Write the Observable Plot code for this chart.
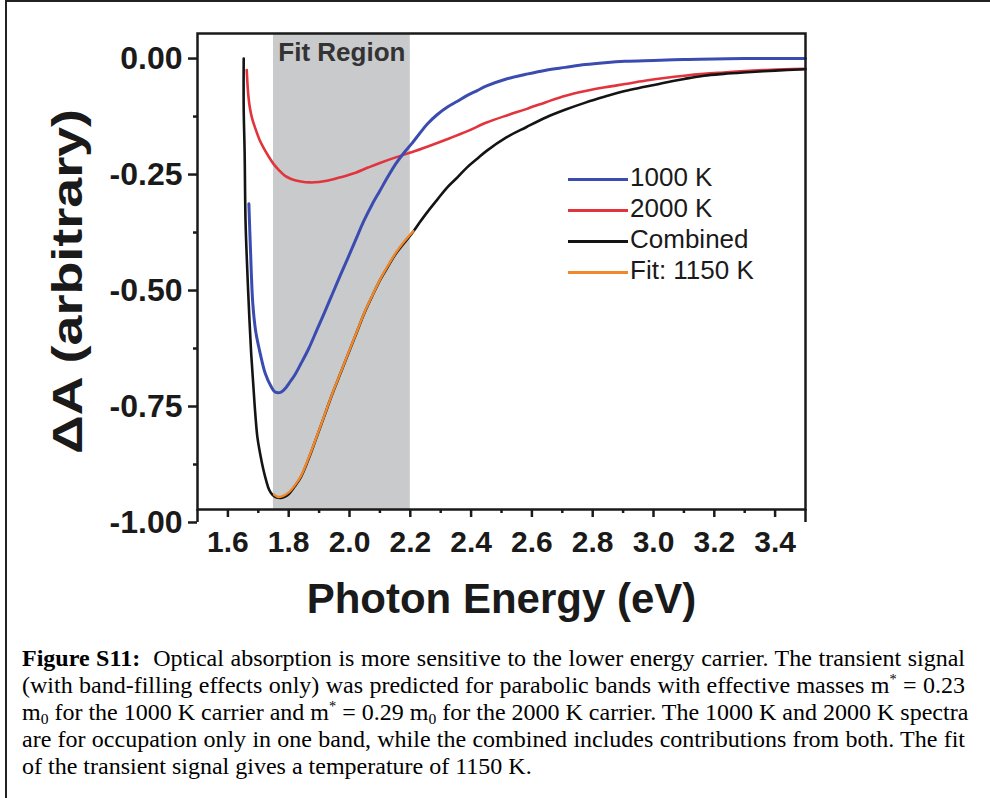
<!DOCTYPE html>
<html>
<head>
<meta charset="utf-8">
<script src="https://cdn.jsdelivr.net/npm/d3@7"></script>
<script src="https://cdn.jsdelivr.net/npm/@observablehq/plot@0.6"></script>
<style>
  html, body { margin: 0; padding: 0; background: #fff; }
  #page { position: relative; width: 990px; height: 798px; overflow: hidden; background: #fff; }
  #border { position: absolute; left: 5px; top: 0; width: 990px; height: 798px; border-top: 2px solid #222; border-left: 2px solid #222; box-sizing: border-box; }
  #chart { position: absolute; left: 0; top: 0; }
  #legend { position: absolute; left: 568px; top: 162px; font-family: "Liberation Sans", Arial, sans-serif; font-size: 26px; color: #1a1a1a; }
  #legend .row { height: 31px; line-height: 31px; white-space: nowrap; }
  #legend .sw { display: inline-block; width: 60px; height: 3px; vertical-align: middle; margin-right: 2px; }
  #caption { position: absolute; left: 22px; top: 645px; width: 943px; font-family: "Liberation Serif", "Times New Roman", serif; font-size: 24px; line-height: 27px; color: #000; }
  #caption .j { text-align: justify; text-align-last: justify; white-space: nowrap; }
  #caption sup { font-size: 60%; vertical-align: 0.6em; line-height: 0; }
  #caption sub { font-size: 65%; vertical-align: -0.25em; line-height: 0; }
</style>
</head>
<body>
<div id="page">
  <div id="border"></div>
  <div id="chart"></div>
  <div id="legend"></div>
  <div id="caption">
    <div class="j"><b>Figure S11:</b>&nbsp; Optical absorption is more sensitive to the lower energy carrier. The transient signal</div>
    <div class="j">(with band-filling effects only) was predicted for parabolic bands with effective masses m<sup>*</sup> = 0.23</div>
    <div class="j">m<sub>0</sub> for the 1000 K carrier and m<sup>*</sup> = 0.29 m<sub>0</sub> for the 2000 K carrier. The 1000 K and 2000 K spectra</div>
    <div class="j">are for occupation only in one band, while the combined includes contributions from both. The fit</div>
    <div>of the transient signal gives a temperature of 1150 K.</div>
  </div>
</div>
<script>
// ---- data ----
const seriesNames = ["1000 K", "2000 K", "Combined", "Fit: 1150 K"];
const seriesColors = ["#3b4cb0", "#e2343c", "#141414", "#f0882a"];

const blueX = [1.669,1.674,1.682,1.691,1.704,1.723,1.743,1.756,1.775,1.790,1.801,1.820,1.840,1.866,1.892,1.918,1.944,1.970,1.996,2.022,2.048,2.074,2.100,2.126,2.152,2.178,2.204,2.230,2.256,2.290,2.321,2.355,2.386,2.420,2.451,2.516,2.580,2.646,2.710,2.776,2.840,2.906,3.000,3.100,3.200,3.300,3.400,3.500];
const blueY = [-0.313,-0.407,-0.529,-0.586,-0.629,-0.679,-0.708,-0.719,-0.719,-0.710,-0.700,-0.682,-0.658,-0.625,-0.586,-0.547,-0.507,-0.467,-0.428,-0.388,-0.349,-0.315,-0.285,-0.255,-0.227,-0.204,-0.184,-0.162,-0.141,-0.120,-0.105,-0.092,-0.080,-0.069,-0.059,-0.044,-0.034,-0.025,-0.019,-0.013,-0.009,-0.006,-0.004,-0.002,-0.001,0.000,0.000,0.000];

const redX = [1.662,1.666,1.672,1.680,1.691,1.704,1.717,1.733,1.750,1.770,1.788,1.810,1.840,1.870,1.900,1.930,1.970,2.020,2.061,2.100,2.152,2.204,2.260,2.321,2.390,2.451,2.520,2.581,2.646,2.711,2.776,2.841,2.906,2.971,3.036,3.101,3.166,3.231,3.300,3.360,3.430,3.500];
const redY = [-0.025,-0.070,-0.105,-0.130,-0.152,-0.175,-0.192,-0.210,-0.227,-0.242,-0.253,-0.260,-0.265,-0.267,-0.266,-0.263,-0.256,-0.246,-0.235,-0.225,-0.213,-0.202,-0.189,-0.174,-0.156,-0.138,-0.122,-0.109,-0.094,-0.080,-0.070,-0.062,-0.055,-0.048,-0.042,-0.037,-0.033,-0.030,-0.027,-0.025,-0.023,-0.022];

const blackX = [1.652,1.652,1.655,1.658,1.664,1.671,1.677,1.684,1.690,1.697,1.707,1.717,1.726,1.736,1.746,1.756,1.775,1.788,1.801,1.820,1.840,1.866,1.892,1.918,1.944,1.970,1.996,2.022,2.048,2.074,2.100,2.126,2.152,2.178,2.204,2.230,2.256,2.290,2.321,2.355,2.386,2.420,2.451,2.516,2.581,2.646,2.711,2.776,2.841,2.906,2.971,3.036,3.101,3.166,3.231,3.296,3.400,3.500];
const blackY = [0.000,-0.110,-0.200,-0.350,-0.460,-0.565,-0.640,-0.708,-0.765,-0.816,-0.855,-0.887,-0.910,-0.930,-0.940,-0.945,-0.947,-0.944,-0.938,-0.922,-0.902,-0.862,-0.816,-0.769,-0.722,-0.679,-0.636,-0.593,-0.550,-0.513,-0.478,-0.449,-0.421,-0.399,-0.378,-0.354,-0.331,-0.303,-0.278,-0.256,-0.235,-0.216,-0.199,-0.170,-0.148,-0.127,-0.110,-0.095,-0.082,-0.070,-0.061,-0.052,-0.044,-0.037,-0.033,-0.030,-0.026,-0.023];

const fitX = [1.752,1.765,1.780,1.800,1.820,1.840,1.866,1.892,1.918,1.944,1.970,1.996,2.022,2.048,2.074,2.100,2.126,2.152,2.178,2.210];
const fitY = [-0.940,-0.945,-0.943,-0.935,-0.920,-0.900,-0.860,-0.815,-0.768,-0.721,-0.678,-0.635,-0.592,-0.549,-0.512,-0.477,-0.447,-0.419,-0.396,-0.372];

const fitRegion = [{x1: 1.75, x2: 2.2, label: "Fit Region"}];

const xMajor = [1.6, 1.8, 2.0, 2.2, 2.4, 2.6, 2.8, 3.0, 3.2, 3.4];
const xMinor = [1.7, 1.9, 2.1, 2.3, 2.5, 2.7, 2.9, 3.1, 3.3];
const yMajor = [0, -0.25, -0.5, -0.75, -1.0];
const yMinor = [-0.125, -0.375, -0.625, -0.875];

const xTitle = "Photon Energy (eV)";
const yTitle = "\u0394A (arbitrary)";

// ---- build ----
const toRows = (xs, ys, name) => xs.map((x, i) => ({x, y: ys[i], name}));
const blue = toRows(blueX, blueY, seriesNames[0]);
const red = toRows(redX, redY, seriesNames[1]);
const black = toRows(blackX, blackY, seriesNames[2]);
const fit = toRows(fitX, fitY, seriesNames[3]);

const xDomain = [1.5, 3.5];
const yDomain = [-0.972, 0.054];
const ink = "#1a1a1a";
const sans = "'Liberation Sans', Arial, Helvetica, sans-serif";
const curve = "catmull-rom";

const chart = Plot.plot({
  width: 990,
  height: 625,
  marginLeft: 197,
  marginRight: 185,
  marginTop: 33,
  marginBottom: 116,
  x: {domain: xDomain, label: null},
  y: {domain: yDomain, label: null},
  style: {fontFamily: sans, color: ink, background: "transparent", overflow: "visible"},
  marks: [
    Plot.rect(fitRegion, {x1: "x1", x2: "x2", fill: "#c9cacc"}),
    Plot.text(fitRegion, {x: d => (d.x1 + d.x2) / 2, frameAnchor: "top", dy: 9, text: "label", fontSize: 26, fontWeight: "bold", fill: "#333", fontFamily: sans}),
    Plot.line(red, {x: "x", y: "y", stroke: seriesColors[1], strokeWidth: 2.6, curve}),
    Plot.line(blue, {x: "x", y: "y", stroke: seriesColors[0], strokeWidth: 3, curve}),
    Plot.line(black, {x: "x", y: "y", stroke: seriesColors[2], strokeWidth: 2.6, curve}),
    Plot.line(fit, {x: "x", y: "y", stroke: seriesColors[3], strokeWidth: 2.4, curve}),
    Plot.frame({stroke: ink, strokeWidth: 2.5}),
    Plot.ruleX(xDomain, {y1: yMajor[yMajor.length - 1], y2: yDomain[0], stroke: ink, strokeWidth: 2.5}),
    Plot.axisX({ticks: xMajor, tickSize: 8, tickPadding: 13, tickFormat: d => d.toFixed(1), fontSize: 30, fontWeight: "bold", strokeWidth: 2.5, label: null}),
    Plot.axisX({ticks: xMinor, tickSize: 4, tickFormat: () => "", strokeWidth: 2.5, label: null}),
    Plot.axisY({ticks: yMajor, tickSize: 9, tickPadding: 6, tickFormat: d => d.toFixed(2), fontSize: 32, fontWeight: "bold", strokeWidth: 2.5, label: null}),
    Plot.axisY({ticks: yMinor, tickSize: 4, tickFormat: () => "", strokeWidth: 2.5, label: null}),
    Plot.text([xTitle], {frameAnchor: "bottom", dy: 103, text: d => d, fontSize: 42, fontWeight: "bold", fill: ink}),
    Plot.text([yTitle], {frameAnchor: "left", dx: -129, dy: 10, rotate: -90, textAnchor: "middle", text: d => d, fontSize: 42, fontWeight: "bold", fill: ink})
  ]
});
// stretch the rotated title along its length, as in the reference
d3.select(chart).selectAll("text")
  .filter(function () { return this.textContent === yTitle; })
  .attr("textLength", 345)
  .attr("lengthAdjust", "spacingAndGlyphs");
document.getElementById("chart").appendChild(chart);

// legend (HTML overlay)
const legend = d3.select("#legend");
seriesNames.forEach((name, i) => {
  const row = legend.append("div").attr("class", "row");
  row.append("span").attr("class", "sw").style("background", seriesColors[i]);
  row.append("span").text(name);
});
</script>
</body>
</html>
